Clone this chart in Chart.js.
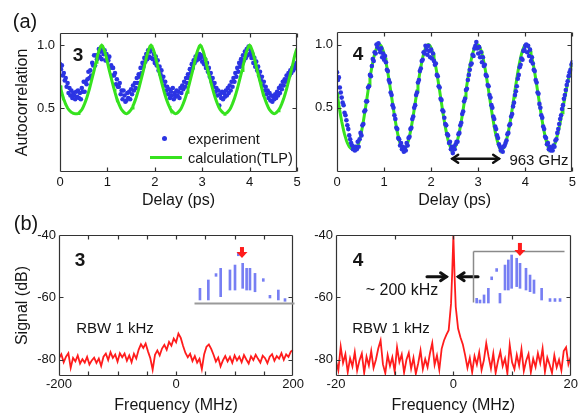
<!DOCTYPE html>
<html>
<head>
<meta charset="utf-8">
<script src="https://cdn.jsdelivr.net/npm/chart.js@4.4.1/dist/chart.umd.min.js"></script>
<style>
    html, body { margin: 0; padding: 0; background: #fff; }
    #fig { position: relative; width: 579px; height: 414px; overflow: hidden; font-family: "Liberation Sans", Arial, sans-serif; color: #151515; }
    #fig canvas { position: absolute; }
    .lbl { position: absolute; transform: translate(-50%, -50%); white-space: nowrap; line-height: 1; }
    .left { transform: translate(0, -50%); }
    .num { font-size: 19px; font-weight: bold; }
    .dot { position: absolute; width: 5px; height: 5px; border-radius: 50%; background: #2b34e3; }
    .bar { position: absolute; height: 3px; background: #36e21e; }
</style>
</head>
<body>
<div id="fig">
    <canvas id="cA3" width="305" height="190" style="left:0;top:20px"></canvas>
    <canvas id="cA4" width="279" height="190" style="left:300px;top:20px"></canvas>
    <canvas id="cB3" width="305" height="210" style="left:0;top:205px"></canvas>
    <canvas id="cB4" width="279" height="210" style="left:300px;top:205px"></canvas>
    <canvas id="iB3" width="115" height="70" style="left:186px;top:240px"></canvas>
    <canvas id="iB4" width="110" height="72" style="left:465px;top:238px"></canvas>

    <div class="lbl" style="left:25px;top:21px;font-size:20px">(a)</div>
    <div class="lbl" style="left:26px;top:223px;font-size:20px">(b)</div>
    <div class="lbl num" style="left:78px;top:54px">3</div>
    <div class="lbl num" style="left:358px;top:53px">4</div>
    <div class="lbl num" style="left:80px;top:259px">3</div>
    <div class="lbl num" style="left:358px;top:259px">4</div>
    <div class="lbl" style="left:115px;top:327px;font-size:15px">RBW 1 kHz</div>
    <div class="lbl" style="left:391px;top:327px;font-size:15px">RBW 1 kHz</div>
    <div class="lbl" style="left:402px;top:290px;font-size:16px">~ 200 kHz</div>
    <div class="lbl" style="left:539px;top:159px;font-size:15px">963 GHz</div>

    <div class="dot" style="left:162px;top:136px"></div>
    <div class="lbl left" style="left:188px;top:139px;font-size:14.5px">experiment</div>
    <div class="bar" style="left:150px;top:156px;width:32px"></div>
    <div class="lbl left" style="left:188px;top:158px;font-size:14.5px">calculation(TLP)</div>
</div>
<script>
// ---- data ----
const delayTicks = [0, 1, 2, 3, 4, 5];
const acTicks = [0.5, 1.0];
const signalTicks = [-80, -60, -40];
const freqTicks3 = [-200, 0, 200];
const freqTicks4 = [-20, 0, 20];
const freqMarks3 = [-150, -100, -50, 0, 50, 100, 150];
const freqMarks4 = [-10, 0, 10];

const delay = [
    0,0.02,0.04,0.06,0.08,0.1,0.12,0.14,0.16,0.18,
    0.2,0.22,0.24,0.26,0.28,0.3,0.32,0.34,0.36,0.38,
    0.4,0.42,0.44,0.46,0.48,0.5,0.52,0.54,0.56,0.58,
    0.6,0.62,0.64,0.66,0.68,0.7,0.72,0.74,0.76,0.78,
    0.8,0.82,0.84,0.86,0.88,0.9,0.92,0.94,0.96,0.98,
    1,1.02,1.04,1.06,1.08,1.1,1.12,1.14,1.16,1.18,
    1.2,1.22,1.24,1.26,1.28,1.3,1.32,1.34,1.36,1.38,
    1.4,1.42,1.44,1.46,1.48,1.5,1.52,1.54,1.56,1.58,
    1.6,1.62,1.64,1.66,1.68,1.7,1.72,1.74,1.76,1.78,
    1.8,1.82,1.84,1.86,1.88,1.9,1.92,1.94,1.96,1.98,
    2,2.02,2.04,2.06,2.08,2.1,2.12,2.14,2.16,2.18,
    2.2,2.22,2.24,2.26,2.28,2.3,2.32,2.34,2.36,2.38,
    2.4,2.42,2.44,2.46,2.48,2.5,2.52,2.54,2.56,2.58,
    2.6,2.62,2.64,2.66,2.68,2.7,2.72,2.74,2.76,2.78,
    2.8,2.82,2.84,2.86,2.88,2.9,2.92,2.94,2.96,2.98,
    3,3.02,3.04,3.06,3.08,3.1,3.12,3.14,3.16,3.18,
    3.2,3.22,3.24,3.26,3.28,3.3,3.32,3.34,3.36,3.38,
    3.4,3.42,3.44,3.46,3.48,3.5,3.52,3.54,3.56,3.58,
    3.6,3.62,3.64,3.66,3.68,3.7,3.72,3.74,3.76,3.78,
    3.8,3.82,3.84,3.86,3.88,3.9,3.92,3.94,3.96,3.98,
    4,4.02,4.04,4.06,4.08,4.1,4.12,4.14,4.16,4.18,
    4.2,4.22,4.24,4.26,4.28,4.3,4.32,4.34,4.36,4.38,
    4.4,4.42,4.44,4.46,4.48,4.5,4.52,4.54,4.56,4.58,
    4.6,4.62,4.64,4.66,4.68,4.7,4.72,4.74,4.76,4.78,
    4.8,4.82,4.84,4.86,4.88,4.9,4.92,4.94,4.96,4.98,
    5
];

// panel (a) 3: experiment and TLP calculation
const a3Exp = [
    .85,.81,.84,.76,.78,.72,.74,.67,.70,.62,.66,.60,.64,.58,.62,.60,.57,.63,.59,
    .64,.58,.62,.57,.66,.63,.71,.63,.71,.69,.73,.79,.74,.80,.76,.86,.84,.92,.84,.92,.89,.92,.97,.91,.95,.89,
    .97,.93,.96,.88,.93,.88,.88,.91,.82,.84,.76,.82,.76,.78,.69,.73,.67,.67,.70,.61,.64,.57,.64,.60,.55,.56,
    .62,.58,.63,.57,.65,.61,.68,.64,.70,.66,.74,.70,.77,.75,.82,.78,.86,.83,.90,.87,.93,.89,.96,.91,.95,
    .90,.97,.89,.93,.86,.91,.84,.88,.80,.83,.77,.80,.72,.75,.68,.71,.64,.67,.61,.65,.58,.63,.60,.66,.57,.62,.59,
    .64,.60,.63,.58,.66,.62,.68,.65,.71,.67,.74,.70,.77,.74,.81,.78,.85,.82,.88,.86,.91,.88,.92,.89,.93,.90,
    .92,.87,.91,.85,.89,.82,.86,.79,.82,.75,.78,.71,.74,.67,.70,.63,.66,.60,.64,.52,.61,.58,.63,.57,.62,.59,
    .64,.60,.66,.62,.68,.64,.71,.67,.74,.71,.78,.75,.82,.79,.86,.83,.89,.86,.92,.88,.95,.90,.97,.92,.99,.93,
    .96,.90,.93,.86,.90,.83,.87,.80,.83,.76,.79,.72,.75,.68,.71,.64,.67,.61,.64,.58,.62,.56,.60,.55,.59,.57,.61,.58,
    .63,.60,.66,.62,.68,.65,.71,.68,.73,.71,.76,.73,.78,.76,.80,.78,.82,.80,.84,.82,.85,.86
];
const a3Calc = [
    .68,.65,.62,.595,.57,.55,.53,.515,.50,.49,.48,.473,.467,.462,.458,.456,.455,.455,
    .455,.457,.462,.469,.478,.488,.50,.517,.535,.555,.575,.60,.625,.652,.68,.71,.74,.77,.80,.833,.865,.90,.93,.955,.975,.993,1.0,
    .993,.975,.955,.93,.90,.865,.833,.80,.77,.74,.71,.68,.652,.625,.60,.575,.555,.535,.517,.50,.488,.478,.469,.462,.457,.455,
    .457,.462,.469,.478,.488,.50,.517,.535,.555,.575,.60,.625,.652,.68,.71,.74,.77,.80,.833,.865,.90,.93,.955,.975,.993,1.0,
    .993,.975,.955,.93,.90,.865,.833,.80,.77,.74,.71,.68,.652,.625,.60,.575,.555,.535,.517,.50,.488,.478,.469,.462,.457,.455,
    .457,.462,.469,.478,.488,.50,.517,.535,.555,.575,.60,.625,.652,.68,.71,.74,.77,.80,.833,.865,.90,.93,.955,.975,.993,1.0,
    .993,.975,.955,.93,.90,.865,.833,.80,.77,.74,.71,.68,.652,.625,.60,.575,.555,.535,.517,.50,.488,.478,.469,.462,.457,.455,
    .457,.462,.469,.478,.488,.50,.517,.535,.555,.575,.60,.625,.652,.68,.71,.74,.77,.80,.833,.865,.90,.93,.955,.975,.993,1.0,
    .993,.975,.955,.93,.90,.865,.833,.80,.77,.74,.71,.68,.652,.625,.60,.575,.555,.535,.517,.50,.488,.478,.469,.462,.457,.455,
    .457,.462,.469,.478,.488,.50,.517,.535,.555,.575,.60,.625,.652,.68,.71,.74,.77,.80,.833,.865,.90,.93,.955,.975
];

// panel (a) 4
const a4Exp = [
    .78,.72,.74,.66,.62,.58,.54,.52,.46,.44,.40,.36,.33,.28,.25,.22,.20,.17,.19,.16,
    .19,.17,.23,.19,.25,.30,.28,.36,.37,.47,.48,.55,.55,.66,.67,.76,.75,.83,.885,.87,.94,.93,1.0,.98,1.01,.965,
    .94,.97,.90,.93,.88,.91,.86,.80,.79,.72,.70,.62,.60,.52,.50,.44,.41,.34,.33,.26,.25,.20,.22,.17,.19,.15,
    .18,.16,.22,.20,.26,.27,.33,.34,.41,.43,.50,.52,.60,.62,.70,.72,.79,.81,.87,.88,.94,.93,.99,.96,.92,.99,
    .95,.90,.96,.89,.93,.87,.84,.85,.76,.75,.67,.66,.57,.56,.48,.47,.42,.37,.36,.29,.28,.22,.23,.17,.19,.14,
    .19,.17,.21,.23,.23,.29,.30,.36,.38,.45,.47,.55,.57,.64,.65,.72,.76,.80,.84,.85,.92,.91,.97,.99,1.02,.97,
    .93,.98,.90,.94,.86,.90,.83,.84,.76,.75,.68,.67,.60,.58,.52,.50,.43,.41,.35,.33,.28,.26,.21,.19,.16,.18,
    .15,.19,.20,.22,.24,.29,.30,.36,.37,.43,.45,.51,.54,.60,.63,.67,.73,.76,.82,.84,.89,.88,.95,.96,.99,1.0,
    .94,.99,.91,.96,.87,.90,.85,.80,.79,.72,.70,.62,.61,.53,.50,.44,.42,.35,.33,.27,.26,.21,.22,.17,.19,.16,.18,
    .16,.20,.19,.24,.25,.30,.33,.37,.41,.44,.49,.52,.57,.60,.64,.68,.71,.75,.78,.80,.84,.86
];
const a4Calc = [
    .62,.57,.52,.475,.43,.39,.355,.32,.29,.265,.24,.22,.205,.192,.183,.177,.173,.171,.17,.17,
    .173,.182,.197,.218,.243,.274,.31,.349,.392,.438,.486,.535,.585,.635,.684,.732,.778,.821,.86,.896,.927,.952,.973,.988,.997,1.0,
    .997,.988,.973,.952,.927,.896,.86,.821,.778,.732,.684,.635,.585,.535,.486,.438,.392,.349,.31,.274,.243,.218,.197,.182,.173,.17,
    .173,.182,.197,.218,.243,.274,.31,.349,.392,.438,.486,.535,.585,.635,.684,.732,.778,.821,.86,.896,.927,.952,.973,.988,.997,1.0,
    .997,.988,.973,.952,.927,.896,.86,.821,.778,.732,.684,.635,.585,.535,.486,.438,.392,.349,.31,.274,.243,.218,.197,.182,.173,.17,
    .173,.182,.197,.218,.243,.274,.31,.349,.392,.438,.486,.535,.585,.635,.684,.732,.778,.821,.86,.896,.927,.952,.973,.988,.997,1.0,
    .997,.988,.973,.952,.927,.896,.86,.821,.778,.732,.684,.635,.585,.535,.486,.438,.392,.349,.31,.274,.243,.218,.197,.182,.173,.17,
    .173,.182,.197,.218,.243,.274,.31,.349,.392,.438,.486,.535,.585,.635,.684,.732,.778,.821,.86,.896,.927,.952,.973,.988,.997,1.0,
    .997,.988,.973,.952,.927,.896,.86,.821,.778,.732,.684,.635,.585,.535,.486,.438,.392,.349,.31,.274,.243,.218,.197,.182,.173,.17,
    .172,.178,.19,.205,.225,.25,.28,.31,.345,.38,.42,.46,.50,.54,.58,.62,.66,.70,.735,.77,.80,.83,.855
];

// panel (b) 3: RF spectrum, MHz / dB
const freq3 = [
    -200,-196,-192,-188,-184,-180,-176,-172,-168,-164,
    -160,-156,-152,-148,-144,-140,-136,-132,-128,-124,
    -120,-116,-112,-108,-104,-100,-96,-92,-88,-84,
    -80,-76,-72,-68,-64,-60,-56,-52,-48,-44,
    -40,-36,-32,-28,-24,-20,-16,-12,-8,-4,
    0,4,8,12,16,20,24,28,32,36,
    40,44,48,52,56,60,64,68,72,76,
    80,84,88,92,96,100,104,108,112,116,
    120,124,128,132,136,140,144,148,152,156,
    160,164,168,172,176,180,184,188,192,196,
    200
];
const signal3 = [
    -79.5,-78.2,-80.8,-79.0,-77.9,-82.6,-79.4,-80.5,-78.6,-81.2,
    -79.8,-80.9,-79.1,-81.5,-80.2,-79.3,-81.0,-79.6,-82.0,-79.0,
    -78.0,-80.1,-77.6,-79.4,-78.3,-80.6,-77.9,-79.2,-78.0,-80.3,
    -78.6,-80.8,-78.1,-79.6,-76.8,-75.0,-76.2,-74.8,-77.3,-79.5,
    -83.2,-78.4,-77.0,-78.6,-76.4,-75.2,-76.8,-74.3,-75.5,-73.2,
    -74.4,-71.6,-73.0,-75.6,-77.8,-79.2,-78.1,-80.4,-78.8,-80.9,
    -79.7,-83.0,-78.2,-75.8,-75.1,-76.5,-78.4,-80.6,-79.3,-82.1,
    -80.2,-78.8,-80.5,-79.1,-81.0,-78.6,-80.2,-79.0,-80.8,-78.5,
    -79.9,-81.2,-78.9,-80.1,-78.4,-79.7,-80.9,-78.7,-79.5,-81.1,
    -79.0,-78.2,-80.3,-78.8,-79.6,-77.9,-80.0,-78.3,-79.1,-77.4,
    -76.9
];

// panel (b) 4
const freq4 = [
    -20,-19.6,-19.2,-18.8,-18.4,-18,-17.6,-17.2,-16.8,-16.4,
    -16,-15.6,-15.2,-14.8,-14.4,-14,-13.6,-13.2,-12.8,-12.4,
    -12,-11.6,-11.2,-10.8,-10.4,-10,-9.6,-9.2,-8.8,-8.4,
    -8,-7.6,-7.2,-6.8,-6.4,-6,-5.6,-5.2,-4.8,-4.4,
    -4,-3.6,-3.2,-2.8,-2.4,-2,-1.6,-1.2,-0.8,-0.4,
    -0.2,0,0.2,
    0.4,0.8,1.2,1.6,2,2.4,2.8,3.2,3.6,4,
    4.4,4.8,5.2,5.6,6,6.4,6.8,7.2,7.6,8,
    8.4,8.8,9.2,9.6,10,10.4,10.8,11.2,11.6,12,
    12.4,12.8,13.2,13.6,14,14.4,14.8,15.2,15.6,16,
    16.4,16.8,17.2,17.6,18,18.4,18.8,19.2,19.6,20
];
const signal4 = [
    -80.5,-83.4,-75.8,-81.0,-78.2,-84.0,-79.5,-82.1,-77.6,-83.5,
    -80.2,-78.0,-84.2,-79.0,-81.8,-77.2,-82.6,-80.0,-76.4,-73.8,
    -81.5,-84.3,-78.5,-82.0,-79.2,-83.8,-76.0,-80.7,-78.3,-84.1,
    -80.0,-77.8,-82.9,-79.4,-84.5,-81.2,-77.0,-83.0,-79.8,-82.4,
    -78.0,-74.6,-81.6,-78.6,-83.2,-76.5,-73.8,-72.0,-70.5,-62.0,
    -52.0,-40.2,-53.0,
    -63.0,-70.0,-72.8,-75.0,-78.5,-82.6,-79.4,-84.0,-78.8,-81.5,
    -77.6,-83.3,-80.1,-74.7,-79.0,-82.8,-78.0,-84.2,-80.4,-77.4,
    -82.0,-79.6,-84.4,-75.2,-80.8,-83.0,-78.4,-81.9,-76.6,-83.6,
    -80.3,-78.1,-84.0,-79.7,-82.3,-77.9,-81.1,-76.4,-83.9,-79.3,
    -81.6,-84.2,-78.6,-82.4,-80.0,-83.4,-77.2,-76.0,-81.4,-79.0
];

// optical comb insets (position along inset axis 0..100, dB)
const ins3Pos = [5.9, 14.2, 21.8, 26.4, 35.6, 40.6, 43.9, 48.2, 52.1, 55.4, 60.4, 68.6, 75.2, 83.5, 90.1];
const ins3Lo = [-46.7, -46.7, -27.4, -44, -38.6, -38.6, -10.6, -37.2, -38.6, -38.6, -40, -31.5, -45.1, -46.7, -47.8];
const ins3Hi = [-37.2, -30.4, -25.2, -20.9, -22.2, -18.2, -8.4, -16.8, -20.9, -20.9, -25, -29.3, -42.9, -38.6, -45.6];
const ins4Pos = [4.0, 7.6, 12.0, 16.7, 20.3, 25.7, 29.3, 34.8, 38.4, 42.0, 47.5, 51.1, 57.6, 62.0, 66.3, 74.6, 83.7, 89.1, 94.6];
const ins4Lo = [-50, -50, -50, -50, -32.1, -25.7, -50, -40, -40, -38.7, -37.4, -38.7, -40, -41.3, -42.6, -47.7, -48.8, -48.8, -48.8];
const ins4Hi = [-46.4, -47.7, -43.8, -38.7, -29.9, -23.5, -42.6, -20.8, -16.9, -13.1, -15.6, -19.5, -23.3, -28.5, -32.3, -38.7, -46.6, -46.6, -46.6];

// ---- styling ----
const FONT = '"Liberation Sans", Arial, sans-serif';
const INK = '#151515';
const BLUE = '#2b34e3';
const GREEN = '#36e21e';
const RED = '#ff1c1c';
const STEM = 'rgba(85, 95, 240, 0.8)';

const pairs = (xs, ys) => ys.map((y, i) => ({ x: xs[i], y }));

function chevron(ctx, x1, y1, x2, y2, head) {
    const a = Math.atan2(y2 - y1, x2 - x1);
    ctx.beginPath();
    ctx.moveTo(x2 - head * Math.cos(a - 0.6), y2 - head * Math.sin(a - 0.6));
    ctx.lineTo(x2, y2);
    ctx.lineTo(x2 - head * Math.cos(a + 0.6), y2 - head * Math.sin(a + 0.6));
    ctx.stroke();
}

// frame, inward ticks and arrows, all placed through the chart's scales
const frameBox = {
    id: 'frameBox',
    afterDatasetsDraw(chart, args, o) {
        const { ctx, chartArea: c, scales: { x, y } } = chart;
        const L = Math.round(c.left) + 0.5, R = Math.round(c.right) - 0.5;
        const T = Math.round(c.top) + 0.5, B = Math.round(c.bottom) - 0.5;
        ctx.save();
        ctx.strokeStyle = o.color || '#333';
        ctx.lineWidth = o.lineWidth || 1.2;
        const sides = o.sides || 'tblr';
        ctx.beginPath();
        if (sides.includes('t')) { ctx.moveTo(L, T); ctx.lineTo(R, T); }
        if (sides.includes('b')) { ctx.moveTo(L, B); ctx.lineTo(R, B); }
        if (sides.includes('l')) { ctx.moveTo(L, T); ctx.lineTo(L, B); }
        if (sides.includes('r')) { ctx.moveTo(R, T); ctx.lineTo(R, B); }
        (o.xMarks || []).forEach(v => {
            const px = Math.round(x.getPixelForValue(v)) + 0.5;
            ctx.moveTo(px, B); ctx.lineTo(px, B - 4);
            ctx.moveTo(px, T); ctx.lineTo(px, T + 4);
        });
        (o.yMarks || []).forEach(v => {
            const py = Math.round(y.getPixelForValue(v)) + 0.5;
            ctx.moveTo(L, py); ctx.lineTo(L + 4, py);
            ctx.moveTo(R, py); ctx.lineTo(R - 4, py);
        });
        ctx.stroke();

        ctx.strokeStyle = '#111';
        ctx.lineWidth = o.arrowWidth || 2.5;
        ctx.lineCap = 'round';
        (o.arrows || []).forEach(a => {
            const x1 = x.getPixelForValue(a.from), x2 = x.getPixelForValue(a.to), py = y.getPixelForValue(a.level);
            ctx.beginPath(); ctx.moveTo(x1, py); ctx.lineTo(x2, py); ctx.stroke();
            chevron(ctx, x1, py, x2, py, a.head);
            if (a.both) chevron(ctx, x2, py, x1, py, a.head);
        });

        if (o.drop) {
            const px = x.getPixelForValue(o.drop.at);
            const top = y.getPixelForValue(o.drop.top), tip = y.getPixelForValue(o.drop.tip);
            ctx.fillStyle = RED;
            ctx.fillRect(px - 2, top, 4, tip - top - 5);
            ctx.beginPath();
            ctx.moveTo(px - 5.5, tip - 6); ctx.lineTo(px + 5.5, tip - 6); ctx.lineTo(px, tip);
            ctx.closePath(); ctx.fill();
        }
        ctx.restore();
    }
};

function linAxis(o) {
    return {
        type: 'linear', min: o.min, max: o.max,
        grid: { display: false, drawTicks: false }, border: { display: false },
        afterBuildTicks: s => { s.ticks = o.ticks.map(v => ({ value: v })); },
        afterFit: s => { if (s.isHorizontal()) s.height = o.size; else s.width = o.size; },
        ticks: {
            color: INK, font: { family: FONT, size: 13 }, padding: o.pad,
            autoSkip: false, maxRotation: 0, callback: o.fmt || (v => String(v))
        },
        title: o.title
            ? { display: true, text: o.title, color: INK, font: { family: FONT, size: 16 }, padding: o.titlePad }
            : { display: false }
    };
}

function panel(id, datasets, xo, yo, pad, frame) {
    return new Chart(document.getElementById(id), {
        type: 'line',
        data: { datasets },
        options: {
            responsive: false, animation: false, devicePixelRatio: 1,
            layout: { padding: pad, autoPadding: false },
            plugins: { legend: { display: false }, tooltip: { enabled: false }, frameBox: frame },
            scales: { x: linAxis(xo), y: linAxis(yo) }
        },
        plugins: [frameBox]
    });
}

function inset(id, pos, lo, hi, pad, frame) {
    return new Chart(document.getElementById(id), {
        type: 'bar',
        data: {
            datasets: [{
                data: pos.map((x, i) => ({ x, y: [lo[i], hi[i]] })),
                backgroundColor: STEM, barThickness: 2, clip: 6
            }]
        },
        options: {
            responsive: false, animation: false, devicePixelRatio: 1,
            layout: { padding: pad, autoPadding: false },
            plugins: { legend: { display: false }, tooltip: { enabled: false }, frameBox: frame },
            scales: {
                x: { type: 'linear', min: 0, max: 100, display: false, offset: false },
                y: { min: -50, max: -10, display: false }
            }
        },
        plugins: [frameBox]
    });
}

const expStyle = { showLine: false, pointRadius: 2.3, pointBackgroundColor: BLUE, pointBorderWidth: 0 };
const calcStyle = { borderColor: GREEN, borderWidth: 3, pointRadius: 0, tension: 0 };
const rfStyle = { borderColor: RED, borderWidth: 1.8, pointRadius: 0, tension: 0 };
const fmt1 = v => v.toFixed(1);

// (a) 3
panel('cA3',
    [
        { label: 'calculation(TLP)', data: pairs(delay, a3Calc), ...calcStyle },
        { label: 'experiment', data: pairs(delay, a3Exp), ...expStyle }
    ],
    { min: 0, max: 5, ticks: delayTicks, size: 38, pad: 3, title: 'Delay (ps)', titlePad: { top: 0, bottom: 0 } },
    { min: -0.01, max: 1.1, ticks: acTicks, size: 60, pad: 5, fmt: fmt1, title: 'Autocorrelation', titlePad: { top: 13, bottom: 0 } },
    { left: 0, top: 12, right: 8, bottom: 0 },
    { xMarks: delayTicks, yMarks: acTicks }
);

// (a) 4
panel('cA4',
    [
        { label: 'experiment', data: pairs(delay, a4Exp), ...expStyle },
        { label: 'calculation(TLP)', data: pairs(delay, a4Calc), ...calcStyle }
    ],
    { min: 0, max: 5, ticks: delayTicks, size: 38, pad: 3, title: 'Delay (ps)', titlePad: { top: 0, bottom: 0 } },
    { min: -0.01, max: 1.1, ticks: acTicks, size: 37, pad: 4, fmt: fmt1 },
    { left: 0, top: 12, right: 5, bottom: 0 },
    { xMarks: delayTicks, yMarks: acTicks, arrows: [{ from: 2.45, to: 3.44, level: 0.095, head: 7, both: true }] }
);

// (b) 3
panel('cB3',
    [{ label: 'signal', data: pairs(freq3, signal3), ...rfStyle }],
    { min: -200, max: 200, ticks: freqTicks3, size: 39, pad: 1, title: 'Frequency (MHz)', titlePad: { top: 0, bottom: 0 } },
    { min: -85.2, max: -40, ticks: signalTicks, size: 59, pad: 3, title: 'Signal (dB)', titlePad: { top: 13, bottom: 0 } },
    { left: 0, top: 30, right: 8, bottom: 0 },
    { xMarks: freqMarks3, yMarks: signalTicks }
);

// (b) 4
panel('cB4',
    [{ label: 'signal', data: pairs(freq4, signal4), ...rfStyle }],
    { min: -20, max: 20, ticks: freqTicks4, size: 39, pad: 1, title: 'Frequency (MHz)', titlePad: { top: 0, bottom: 0 } },
    { min: -85.2, max: -40, ticks: signalTicks, size: 36, pad: 3 },
    { left: 0, top: 30, right: 5, bottom: 0 },
    {
        xMarks: freqMarks4, yMarks: signalTicks, arrowWidth: 3,
        arrows: [{ from: -4.5, to: -1.2, level: -53.4, head: 7 }, { from: 4.2, to: 0.85, level: -53.4, head: 7 }]
    }
);

// comb spectrum insets
inset('iB3', ins3Pos, ins3Lo, ins3Hi, { left: 8, top: 15, right: 6, bottom: 6 },
    { sides: 'b', color: '#9a9a9a', lineWidth: 2, drop: { at: 47.5, top: -3.5, tip: -12.4 } });
inset('iB4', ins4Pos, ins4Lo, ins4Hi, { left: 8, top: 13, right: 10, bottom: 7 },
    { sides: 'tl', color: '#8a8a8a', lineWidth: 1.5, drop: { at: 51, top: -3.8, tip: -13.8 } });
</script>
</body>
</html>
